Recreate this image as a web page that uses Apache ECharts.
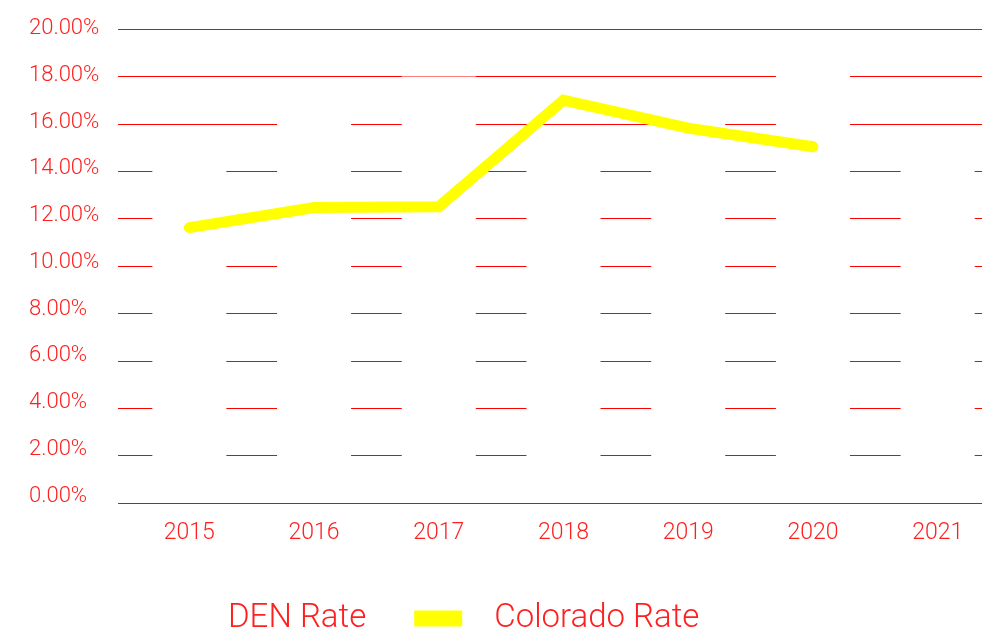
<!DOCTYPE html>
<html>
<head>
<meta charset="utf-8">
<script src="https://cdn.jsdelivr.net/npm/echarts@6/dist/echarts.min.js"></script>
<style>
  html, body { margin: 0; padding: 0; background: #fff; }
  #chart { width: 983px; height: 629px; }
</style>
</head>
<body>
<div id="chart"></div>
<script>
// 数据
const years = ['2015', '2016', '2017', '2018', '2019', '2020', '2021']
const denRate = [15.0, 17.0, 18.0, 15.0, 17.0, 19.0, 15.0] // 白色柱，只能看到网格线被遮住的部分
const coloradoRate = [11.62, 12.47, 12.5, 17.0, 15.82, 15.03, null]
const yMin = 0
const yMax = 20
const yStep = 2

const red = '#ff1f1f'
const font = 'Roboto'

const chart = echarts.init(document.getElementById('chart'), null, { renderer: 'canvas' })

const option = {
  animation: false,
  backgroundColor: '#fff',
  legend: {
    left: 143,
    top: 597,
    itemWidth: 48,
    itemHeight: 16,
    itemGap: 48,
    icon: 'rect',
    textStyle: {
      color: red,
      fontFamily: font,
      fontWeight: 300,
      fontSize: 33,
      padding: [0, 0, 0, 27]
    },
    data: ['DEN Rate', 'Colorado Rate']
  },
  grid: [
    // 0: 网格线
    { left: 118, right: 1, top: 29, bottom: 126, outerBoundsMode: 'none', containLabel: false },
    // 1: 系列，右边超出画布
    { left: 127, width: 873, top: 29, bottom: 126, outerBoundsMode: 'none', containLabel: false },
    // 2: y轴文字，位置略有压缩
    { left: 118, right: 1, top: 28.5, bottom: 133, outerBoundsMode: 'none', containLabel: false }
  ],
  xAxis: [
    { gridIndex: 0, type: 'category', data: years, show: false },
    {
      gridIndex: 1,
      type: 'category',
      data: years,
      axisLine: { show: false },
      axisTick: { show: false },
      axisLabel: {
        color: red,
        fontFamily: font,
        fontWeight: 300,
        fontSize: 23,
        margin: 19
      }
    },
    { gridIndex: 2, type: 'category', data: years, show: false }
  ],
  yAxis: [
    {
      gridIndex: 0,
      type: 'value',
      min: yMin,
      max: yMax,
      interval: yStep,
      axisLine: { show: false },
      axisTick: { show: false },
      axisLabel: { show: false },
      splitLine: { show: true, lineStyle: { color: '#ff0000', width: 1 } }
    },
    {
      gridIndex: 1,
      type: 'value',
      min: yMin,
      max: yMax,
      interval: yStep,
      show: false,
      splitLine: { show: false }
    },
    {
      gridIndex: 2,
      type: 'value',
      min: yMin,
      max: yMax,
      interval: yStep,
      axisLine: { show: false },
      axisTick: { show: false },
      splitLine: { show: false },
      axisLabel: {
        color: red,
        fontFamily: font,
        fontWeight: 300,
        fontSize: 22,
        align: 'left',
        margin: 89,
        formatter: v => v.toFixed(2) + '%'
      }
    }
  ],
  series: [
    {
      name: 'DEN Rate',
      type: 'bar',
      xAxisIndex: 1,
      yAxisIndex: 1,
      data: denRate,
      barWidth: 74,
      itemStyle: { color: '#ffffff' }
    },
    {
      name: 'Colorado Rate',
      type: 'line',
      xAxisIndex: 1,
      yAxisIndex: 1,
      data: coloradoRate,
      symbol: 'none',
      showSymbol: false,
      itemStyle: { color: '#ffff00' },
      lineStyle: { color: '#ffff00', width: 11, cap: 'round', join: 'miter' }
    }
  ]
}

chart.setOption(option)
</script>
</body>
</html>
